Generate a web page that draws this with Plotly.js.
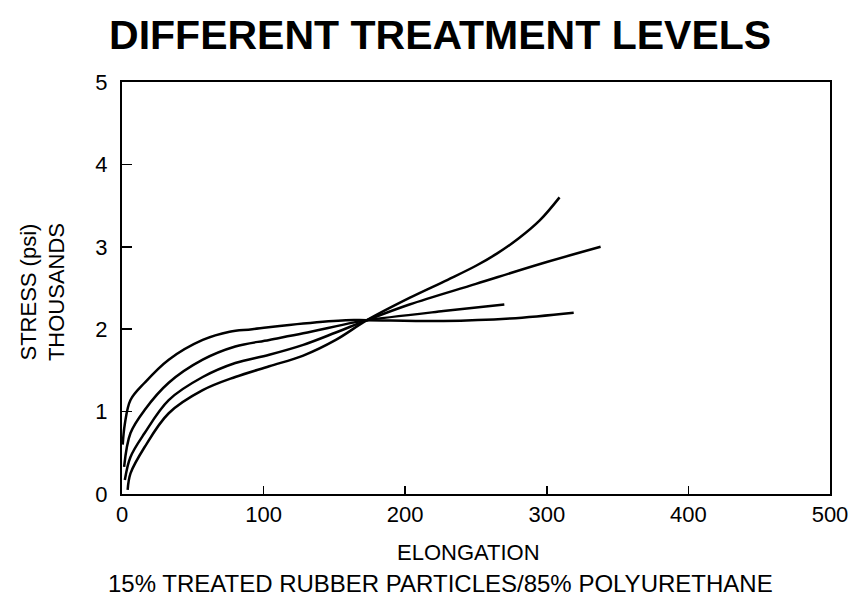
<!DOCTYPE html>
<html>
<head>
<meta charset="utf-8">
<script src="https://cdn.plot.ly/plotly-3.0.1.min.js"></script>
<style>html,body{margin:0;padding:0;background:#fff;}#chart{width:848px;height:600px;}</style>
</head>
<body>
<div id="chart"></div>
<script>
// Elongation (x) and stress in thousands of psi (y) for four treatment levels
const xA = [4, 6, 16, 33, 57, 80, 104, 128, 151, 173, 203, 230, 250, 265, 280, 295, 309];
const yA = [0.05, 0.25, 0.57, 0.98, 1.26, 1.42, 1.55, 1.68, 1.87, 2.11, 2.38, 2.6, 2.77, 2.92, 3.1, 3.32, 3.6];

const xB = [2, 6, 16, 33, 57, 80, 104, 128, 151, 173, 203, 250, 297, 338];
const yB = [0.17, 0.45, 0.74, 1.14, 1.42, 1.59, 1.69, 1.81, 1.96, 2.11, 2.3, 2.55, 2.8, 3.0];

const xC = [1.5, 6, 16, 33, 57, 80, 104, 128, 163, 173, 227, 270];
const yC = [0.33, 0.74, 1.02, 1.35, 1.63, 1.79, 1.87, 1.95, 2.08, 2.11, 2.22, 2.3];

const xD = [0.5, 2, 6, 16, 33, 57, 76, 92, 128, 158, 173, 227, 274, 319];
const yD = [0.6, 0.85, 1.14, 1.35, 1.63, 1.87, 1.97, 2.0, 2.07, 2.11, 2.11, 2.1, 2.13, 2.2];

const xTicks = [0, 100, 200, 300, 400, 500];
const yTicks = [0, 1, 2, 3, 4, 5];

const titleText = 'DIFFERENT TREATMENT LEVELS';
const xTitle = 'ELONGATION';
const yTitle = 'STRESS (psi)<br>THOUSANDS';
const noteText = '15% TREATED RUBBER PARTICLES/85% POLYURETHANE';

const FONT = 'Liberation Sans, Arial, Helvetica, sans-serif';
const lineStyle = {color: '#000', width: 2.5, shape: 'spline', smoothing: 1};

const traces = [[xA, yA], [xB, yB], [xC, yC], [xD, yD]].map(([x, y]) => ({
  x: x, y: y, type: 'scatter', mode: 'lines', line: lineStyle,
  hoverinfo: 'skip', showlegend: false
}));

const PL = 122, PB = 106, PW = 708, PH = 412;
const layout = {
  width: 848, height: 600,
  margin: {l: PL, r: 18, t: 82, b: PB},
  paper_bgcolor: '#fff', plot_bgcolor: '#fff',
  font: {family: FONT, color: '#000', size: 22},
  title: {text: titleText, font: {family: FONT, size: 41, weight: 'bold', color: '#000'},
          xref: 'container', x: 0.519, xanchor: 'center',
          yref: 'container', y: 0.942, yanchor: 'middle'},
  xaxis: {range: [0, 500], tickvals: xTicks, ticktext: xTicks.map(String),
          showgrid: false, zeroline: false, showline: true, linecolor: '#000', linewidth: 2,
          mirror: true, ticks: 'inside', ticklen: 8, tickwidth: 1.5, tickcolor: '#000',
          tickfont: {family: FONT, size: 22}, ticklabeloverflow: 'allow', fixedrange: true},
  yaxis: {range: [0, 5], tickvals: yTicks, ticktext: yTicks.map(String),
          showgrid: false, zeroline: false, showline: true, linecolor: '#000', linewidth: 2,
          mirror: true, ticks: 'inside', ticklen: 10, tickwidth: 1.5, tickcolor: '#000',
          tickfont: {family: FONT, size: 22}, ticklabelstandoff: 8, ticklabeloverflow: 'allow',
          fixedrange: true},
  annotations: [
    {text: xTitle, xref: 'paper', yref: 'paper', x: (468 - PL) / PW, y: (494 - 552) / PH,
     xanchor: 'center', yanchor: 'middle', showarrow: false, font: {family: FONT, size: 22}},
    {text: noteText, xref: 'paper', yref: 'paper', x: (440 - PL) / PW, y: (494 - 583) / PH,
     xanchor: 'center', yanchor: 'middle', showarrow: false, font: {family: FONT, size: 24}},
    {text: yTitle, xref: 'paper', yref: 'paper', x: (43 - PL) / PW, y: 0.49,
     xanchor: 'center', yanchor: 'middle', textangle: -90, showarrow: false,
     font: {family: FONT, size: 22}}
  ]
};

Plotly.newPlot('chart', traces, layout, {displayModeBar: false, staticPlot: true});
</script>
</body>
</html>
